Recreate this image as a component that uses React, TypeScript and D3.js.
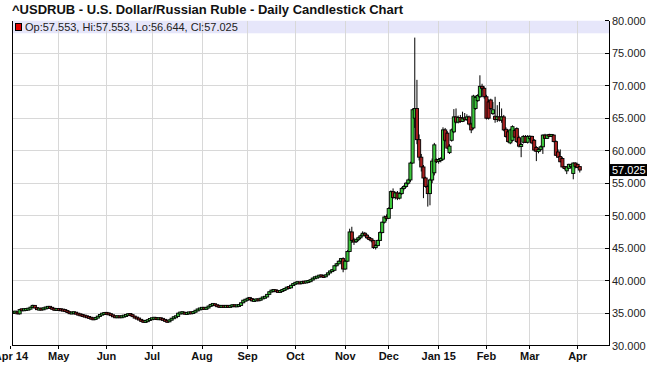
import React from "react";
import * as d3 from "d3";

// ---- data: [open, high, low, close] per trading day ----
const apr14: number[][] = [
  [35.10, 35.25, 35.00, 35.15], [35.15, 35.30, 35.05, 35.20], [35.20, 35.25, 34.85, 34.90],
  [34.90, 35.65, 34.80, 35.55], [35.55, 35.65, 35.45, 35.50], [35.50, 35.60, 35.40, 35.55],
  [35.55, 35.70, 35.45, 35.60], [35.60, 35.75, 35.50, 35.65], [35.65, 36.00, 35.60, 35.90],
  [35.90, 36.30, 35.85, 36.20], [36.20, 36.25, 35.75, 35.80], [35.80, 35.85, 35.55, 35.60],
  [35.60, 35.70, 35.50, 35.65], [35.65, 35.75, 35.55, 35.60], [35.60, 35.80, 35.55, 35.75],
  [35.75, 35.90, 35.70, 35.85], [35.85, 36.00, 35.80, 35.95], [35.95, 36.00, 35.80, 35.85],
  [35.85, 35.90, 35.60, 35.65], [35.65, 35.70, 35.50, 35.55], [35.55, 35.70, 35.50, 35.60],
];
const may14: number[][] = [
  [35.60, 35.70, 35.50, 35.55], [35.55, 35.65, 35.45, 35.50], [35.50, 35.60, 35.40, 35.45],
  [35.45, 35.55, 35.30, 35.35], [35.35, 35.40, 35.10, 35.15], [35.15, 35.20, 34.95, 35.00],
  [35.00, 35.10, 34.90, 35.05], [35.05, 35.15, 34.95, 35.10], [35.10, 35.15, 34.85, 34.90],
  [34.90, 34.95, 34.75, 34.80], [34.80, 34.85, 34.65, 34.70], [34.70, 34.80, 34.55, 34.60],
  [34.60, 34.65, 34.45, 34.50], [34.50, 34.55, 34.35, 34.40], [34.40, 34.45, 34.25, 34.30],
  [34.30, 34.35, 34.10, 34.15], [34.15, 34.25, 34.05, 34.10], [34.10, 34.35, 34.05, 34.30],
  [34.30, 34.55, 34.25, 34.50], [34.50, 34.85, 34.45, 34.80], [34.80, 34.95, 34.70, 34.90],
  [34.90, 35.05, 34.80, 35.00],
];
const jun14: number[][] = [
  [35.00, 35.10, 34.90, 34.95], [34.95, 35.00, 34.80, 34.85], [34.85, 34.90, 34.65, 34.70],
  [34.70, 34.75, 34.45, 34.50], [34.50, 34.55, 34.35, 34.40], [34.40, 34.55, 34.35, 34.50],
  [34.50, 34.55, 34.35, 34.40], [34.40, 34.55, 34.35, 34.50], [34.50, 34.65, 34.45, 34.60],
  [34.60, 34.75, 34.55, 34.70], [34.70, 34.90, 34.65, 34.85], [34.85, 34.90, 34.70, 34.75],
  [34.75, 34.80, 34.45, 34.50], [34.50, 34.55, 34.25, 34.30], [34.30, 34.35, 34.15, 34.20],
  [34.20, 34.25, 33.95, 34.00], [34.00, 34.05, 33.75, 33.80], [33.80, 33.85, 33.60, 33.70],
  [33.70, 33.85, 33.65, 33.75], [33.75, 34.00, 33.70, 33.95], [33.95, 34.15, 33.90, 34.10],
];
const jul14: number[][] = [
  [34.10, 34.25, 34.05, 34.20], [34.20, 34.30, 34.10, 34.25], [34.25, 34.30, 34.05, 34.10],
  [34.10, 34.25, 34.05, 34.20], [34.20, 34.25, 34.05, 34.10], [34.10, 34.15, 33.95, 34.00],
  [34.00, 34.05, 33.75, 33.80], [33.80, 33.85, 33.60, 33.70], [33.70, 34.00, 33.65, 33.95],
  [33.95, 34.25, 33.90, 34.20], [34.20, 34.45, 34.15, 34.40], [34.40, 34.55, 34.35, 34.50],
  [34.50, 35.10, 34.45, 35.00], [35.00, 35.10, 34.90, 35.05], [35.05, 35.20, 34.95, 35.10],
  [35.10, 35.15, 34.85, 34.90], [34.90, 35.05, 34.85, 35.00], [35.00, 35.15, 34.95, 35.10],
  [35.10, 35.15, 34.95, 35.00], [35.00, 35.25, 34.95, 35.20], [35.20, 35.45, 35.15, 35.40],
  [35.40, 35.65, 35.35, 35.60], [35.60, 35.75, 35.55, 35.70],
];
const aug14: number[][] = [
  [35.70, 35.85, 35.65, 35.80], [35.80, 35.85, 35.65, 35.70], [35.70, 35.85, 35.65, 35.80],
  [35.80, 36.15, 35.75, 36.10], [36.10, 36.35, 36.05, 36.30], [36.30, 36.45, 36.25, 36.40],
  [36.40, 36.45, 36.15, 36.20], [36.20, 36.25, 36.05, 36.10], [36.10, 36.15, 35.95, 36.00],
  [36.00, 36.15, 35.95, 36.10], [36.10, 36.15, 35.95, 36.00], [36.00, 36.15, 35.95, 36.10],
  [36.10, 36.15, 35.95, 36.00], [36.00, 36.15, 35.95, 36.10], [36.10, 36.25, 36.05, 36.20],
  [36.20, 36.25, 36.05, 36.10], [36.10, 36.20, 36.05, 36.15], [36.15, 36.25, 36.10, 36.20],
  [36.20, 36.65, 36.15, 36.60], [36.60, 37.05, 36.55, 37.00], [37.00, 37.10, 36.90, 37.00],
];
const sep14: number[][] = [
  [37.00, 37.40, 36.95, 37.30], [37.30, 37.35, 37.15, 37.25], [37.25, 37.30, 36.80, 36.90],
  [36.90, 37.10, 36.85, 37.00], [37.00, 37.20, 36.95, 37.10], [37.10, 37.15, 36.95, 37.00],
  [37.00, 37.35, 36.95, 37.30], [37.30, 37.45, 37.25, 37.40], [37.40, 37.55, 37.35, 37.50],
  [37.50, 37.95, 37.45, 37.90], [37.90, 38.35, 37.85, 38.30], [38.30, 38.60, 38.25, 38.50],
  [38.50, 38.60, 38.40, 38.50], [38.50, 38.55, 38.35, 38.40], [38.40, 38.45, 38.25, 38.30],
  [38.30, 38.45, 38.25, 38.40], [38.40, 38.65, 38.35, 38.60], [38.60, 38.75, 38.55, 38.70],
  [38.70, 39.05, 38.65, 39.00], [39.00, 39.05, 38.85, 38.90], [38.90, 39.35, 38.85, 39.30],
  [39.30, 39.60, 39.25, 39.50],
];
const oct14: number[][] = [
  [39.50, 39.80, 39.45, 39.70], [39.70, 39.80, 39.60, 39.70], [39.70, 39.75, 39.50, 39.60],
  [39.60, 39.85, 39.55, 39.80], [39.80, 39.90, 39.70, 39.75], [39.75, 39.90, 39.70, 39.85],
  [39.85, 40.00, 39.80, 39.90], [39.90, 40.15, 39.85, 40.10], [40.10, 40.45, 40.05, 40.40],
  [40.40, 40.55, 40.35, 40.50], [40.50, 40.65, 40.45, 40.60], [40.60, 40.85, 40.55, 40.80],
  [40.80, 40.85, 40.60, 40.70], [40.70, 40.75, 40.50, 40.60], [40.60, 40.95, 40.55, 40.90],
  [40.90, 41.25, 40.85, 41.20], [41.20, 41.55, 41.15, 41.50], [41.50, 41.65, 41.40, 41.60],
  [41.60, 42.35, 41.55, 42.30], [42.30, 42.70, 42.20, 42.60], [42.60, 43.10, 42.50, 43.00],
  [43.00, 43.50, 42.90, 43.40], [43.40, 43.60, 41.30, 41.80],
];
const nov14: number[][] = [
  [41.80, 43.20, 41.70, 43.00], [43.00, 44.70, 42.90, 44.50], [44.50, 48.00, 44.40, 47.50],
  [47.50, 48.30, 45.80, 46.20], [46.20, 46.60, 45.50, 46.00], [46.00, 46.50, 45.80, 46.30],
  [46.30, 46.80, 46.10, 46.60], [46.60, 47.10, 46.40, 46.90], [46.90, 47.60, 46.80, 47.30],
  [47.30, 47.50, 46.80, 47.00], [47.00, 47.20, 46.40, 46.60], [46.60, 46.80, 46.20, 46.40],
  [46.40, 46.50, 45.90, 46.20], [46.20, 46.30, 44.90, 45.10], [45.10, 45.60, 44.80, 45.40],
  [45.40, 46.30, 45.30, 46.20], [46.20, 47.60, 46.10, 47.40], [47.40, 49.10, 47.30, 49.00],
  [49.00, 50.00, 48.80, 49.80], [49.80, 50.20, 49.20, 49.60],
];
const dec14: number[][] = [
  [49.60, 51.30, 49.50, 51.10], [51.10, 53.90, 51.00, 53.70], [53.70, 54.20, 52.60, 52.80],
  [52.80, 53.70, 52.50, 53.50], [53.50, 53.80, 52.40, 52.70], [52.70, 53.60, 52.50, 53.40],
  [53.40, 54.40, 53.20, 54.20], [54.20, 54.70, 53.90, 54.50], [54.50, 55.20, 54.30, 55.00],
  [55.00, 55.70, 54.80, 55.50], [55.50, 58.30, 55.20, 58.10], [58.10, 66.50, 58.00, 66.30],
  [65.00, 77.40, 63.50, 66.50], [66.50, 70.90, 61.00, 61.70], [61.70, 62.50, 58.50, 59.00],
  [59.00, 59.50, 56.80, 57.50], [57.50, 57.80, 52.70, 55.80], [55.80, 56.00, 54.30, 54.50],
  [54.50, 54.80, 51.40, 53.40], [53.40, 55.70, 51.60, 55.50], [55.50, 58.80, 55.00, 58.40],
  [56.60, 61.20, 56.20, 60.90], [58.50, 58.80, 58.10, 58.40],
];
const jan15: number[][] = [
  [58.40, 58.90, 58.00, 58.60], [58.60, 59.00, 58.20, 58.70], [58.70, 63.60, 58.50, 63.20],
  [63.20, 63.50, 61.40, 61.60], [62.70, 63.00, 60.20, 60.40], [59.70, 61.00, 59.50, 60.70],
  [61.60, 63.40, 61.40, 63.20], [62.90, 66.40, 62.70, 65.20], [65.20, 66.50, 64.20, 64.40],
  [64.40, 65.40, 64.20, 65.10], [65.10, 65.50, 64.30, 64.50], [64.50, 66.00, 64.40, 65.00],
  [65.00, 65.80, 64.60, 64.80], [64.80, 65.60, 64.60, 65.20], [65.20, 65.40, 63.90, 64.10],
  [64.10, 64.30, 62.70, 63.20], [63.50, 68.60, 63.30, 68.40], [66.50, 68.40, 66.30, 68.20],
  [67.70, 68.70, 67.50, 68.50], [68.30, 71.60, 68.10, 69.90], [69.90, 70.30, 69.30, 69.60],
  [69.60, 69.90, 68.00, 68.30],
];
const feb15: number[][] = [
  [68.30, 68.60, 64.80, 65.00], [67.50, 67.90, 64.80, 65.00], [67.80, 68.00, 66.30, 66.50],
  [65.70, 67.50, 65.50, 66.30], [65.30, 68.30, 64.30, 64.80], [64.80, 67.00, 64.40, 65.20],
  [65.20, 67.50, 64.50, 64.70], [64.70, 66.50, 64.30, 65.20], [65.20, 65.50, 63.00, 63.20],
  [63.30, 63.60, 62.00, 62.20], [62.90, 63.20, 61.20, 61.40], [61.20, 63.40, 61.00, 63.20],
  [61.60, 63.90, 61.40, 63.70], [63.10, 63.40, 62.00, 62.10], [63.40, 63.60, 61.20, 61.40],
  [62.00, 62.30, 60.50, 60.70], [60.70, 61.20, 59.00, 60.90], [61.30, 62.40, 61.10, 62.20],
  [62.20, 62.40, 61.20, 61.30], [61.30, 62.40, 61.10, 62.20],
];
const mar15: number[][] = [
  [61.90, 62.40, 61.60, 62.20], [62.20, 62.30, 61.00, 61.20], [61.60, 61.80, 59.90, 60.10],
  [60.50, 60.70, 58.40, 59.90], [59.90, 60.40, 59.60, 60.20], [60.20, 60.80, 59.90, 60.60],
  [60.60, 62.50, 59.50, 62.40], [62.40, 62.60, 61.80, 61.90], [61.90, 62.50, 61.80, 62.40],
  [62.40, 62.60, 62.10, 62.30], [62.30, 62.50, 62.10, 62.40], [62.40, 62.50, 61.30, 61.40],
  [61.40, 61.60, 59.20, 59.30], [59.80, 60.20, 58.90, 59.00], [59.10, 60.20, 58.20, 58.30],
  [58.80, 59.00, 57.40, 57.50], [57.50, 57.60, 57.10, 57.30], [56.90, 57.60, 56.40, 57.50],
  [57.30, 58.00, 57.20, 57.90], [57.60, 58.00, 57.30, 57.80], [56.50, 58.20, 55.60, 58.10],
  [58.10, 58.20, 57.30, 57.60],
];
const apr15: number[][] = [
  [57.90, 58.00, 57.30, 57.40], [57.553, 57.553, 56.644, 57.025],
];

const monthLabels = ["Apr 14", "May", "Jun", "Jul", "Aug", "Sep", "Oct", "Nov", "Dec", "Jan 15", "Feb", "Mar", "Apr"];
const yTicks = [30, 35, 40, 45, 50, 55, 60, 65, 70, 75, 80];
const title = "^USDRUB - U.S. Dollar/Russian Ruble - Daily Candlestick Chart";

const W = 649;
const H = 365;
const PL = 12.7, PR = 609.3, PT = 20.7, PB = 345.7;
const FONT = "'Liberation Sans', Arial, Helvetica, sans-serif";
const GREEN = "#3cc83c";
const RED = "#a82020";
const GRID = "#d8d8d8";

export default function App() {
  const candles = [...apr14, ...may14, ...jun14, ...jul14, ...aug14, ...sep14, ...oct14, ...nov14, ...dec14, ...jan15, ...feb15, ...mar15, ...apr15];
  // weekdays starting Apr 1 2014 (index 0); data starts at index 1 (Apr 2 2014)
  const days = d3.timeDay
    .range(new Date(2014, 3, 1), new Date(2015, 3, 20))
    .filter((d) => d.getDay() !== 0 && d.getDay() !== 6);

  const x = d3.scaleLinear().domain([0.8, 275.6]).range([PL, PR]);
  const y = d3.scaleLinear().domain([30, 80]).range([PB, PT]);

  // first weekday index of each month
  const monthStarts: number[] = [];
  let prevKey = "";
  days.forEach((d, i) => {
    const key = d.getFullYear() + "-" + d.getMonth();
    if (key !== prevKey) {
      monthStarts.push(i);
      prevKey = key;
    }
  });
  const ticks = monthStarts.slice(0, monthLabels.length).map((i, k) => ({ i, label: monthLabels[k] }));

  const last = candles[candles.length - 1];
  const lastClose = last[3];
  const legend = `Op:${last[0].toFixed(3)}, Hi:${last[1].toFixed(3)}, Lo:${last[2].toFixed(3)}, Cl:${last[3].toFixed(3)}`;

  const bodyW = 3.1;

  return (
    <svg
      width={W}
      height={H}
      viewBox={`0 0 ${W} ${H}`}
      style={{ position: "absolute", left: 0, top: 0, background: "#fff" }}
      fontFamily={FONT}
    >
      <defs>
        <clipPath id="plotclip">
          <rect x={PL} y={PT} width={PR - PL} height={PB - PT} />
        </clipPath>
      </defs>
      <rect x={0} y={0} width={W} height={H} fill="#fff" />
      <text x={12} y={14} fontSize={13} fontWeight="bold" fill="#111">
        {title}
      </text>

      {/* legend band */}
      <rect x={PL} y={PT} width={PR - PL} height={12.6} fill="#e6e6fa" />

      {/* grid */}
      <g shapeRendering="crispEdges">
        {yTicks.slice(1, -1).map((v) => (
          <line key={"gy" + v} x1={PL} x2={PR} y1={y(v)} y2={y(v)} stroke={GRID} strokeWidth={1} />
        ))}
        {ticks.slice(1).map((t) => (
          <line key={"gx" + t.i} x1={x(t.i)} x2={x(t.i)} y1={PT} y2={PB} stroke={GRID} strokeWidth={1} />
        ))}
      </g>

      {/* legend content */}
      <rect x={15.5} y={23.5} width={6} height={7} fill="#e00000" stroke="#000" strokeWidth={1} shapeRendering="crispEdges" />
      <text x={25} y={31} fontSize={11} fill="#222">
        {legend}
      </text>

      {/* candles */}
      <g clipPath="url(#plotclip)">
        {candles.map((c, k) => {
          const i = k + 1;
          const cx = x(i);
          const [o, h, l, cl] = c;
          const up = cl >= o;
          const top = y(Math.max(o, cl));
          const bot = y(Math.min(o, cl));
          const bh = Math.max(2, bot - top);
          const mid = (top + bot) / 2;
          return (
            <g key={"c" + k}>
              <line x1={cx} x2={cx} y1={y(h)} y2={y(l)} stroke="#000" strokeWidth={1} />
              <rect
                x={cx - bodyW / 2}
                y={mid - bh / 2}
                width={bodyW}
                height={bh}
                fill={up ? GREEN : RED}
                stroke="#000"
                strokeWidth={0.9}
              />
            </g>
          );
        })}
      </g>

      {/* axes */}
      <g shapeRendering="crispEdges" stroke="#000" strokeWidth={1}>
        <line x1={PL} x2={PL} y1={PT} y2={PB} />
        <line x1={PL} x2={PR} y1={PB} y2={PB} />
        <line x1={PR} x2={PR} y1={PT} y2={PB} />
        {yTicks.map((v) => (
          <line key={"yt" + v} x1={PR - 4} x2={PR} y1={y(v)} y2={y(v)} />
        ))}
        {ticks.map((t) => (
          <line key={"xt" + t.i} x1={x(t.i)} x2={x(t.i)} y1={PB} y2={PB + 3} />
        ))}
      </g>

      {/* y labels */}
      {yTicks.map((v) => (
        <text key={"yl" + v} x={612} y={y(v) + 4} fontSize={11} fill="#222">
          {v.toFixed(3)}
        </text>
      ))}

      {/* x labels */}
      {ticks.map((t) => (
        <text key={"xl" + t.i} x={x(t.i)} y={360} fontSize={11} fontWeight="bold" textAnchor="middle" fill="#111">
          {t.label}
        </text>
      ))}

      {/* last price marker */}
      <rect x={610} y={y(lastClose) - 6} width={37} height={12} fill="#000" />
      <text x={612} y={y(lastClose) + 4} fontSize={11} fill="#fff">
        {lastClose.toFixed(3)}
      </text>
    </svg>
  );
}
